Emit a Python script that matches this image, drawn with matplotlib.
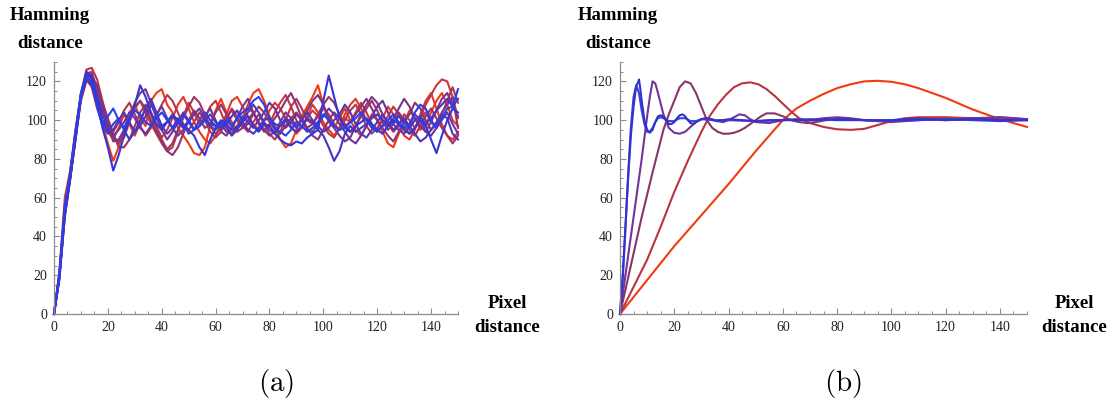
import numpy as np
import matplotlib
matplotlib.use("Agg")
import matplotlib.pyplot as plt
from matplotlib.ticker import MultipleLocator

# ---------------- data: panel (a) (values every 2 pixels of distance) ----------------
x_a = np.arange(0, 151, 2)

a_s1 = [0, 22, 60, 74, 95, 113, 121, 117, 106, 98,
        88, 79, 86, 95, 104, 108, 101, 97, 110, 114,
        116, 108, 104, 96, 92, 88, 83, 82, 86, 97,
        105, 111, 104, 99, 95, 101, 108, 114, 116, 110,
        102, 97, 90, 86, 88, 95, 102, 107, 112, 118,
        108, 99, 96, 101, 106, 100, 95, 92, 97, 103,
        100, 94, 88, 86, 93, 99, 105, 101, 95, 97,
        104, 110, 114, 108, 100, 97]
a_s2 = [0, 18, 55, 72, 92, 110, 120, 119, 110, 100,
        94, 90, 96, 103, 98, 92, 99, 106, 103, 97,
        91, 95, 101, 108, 112, 106, 99, 94, 90, 88,
        92, 97, 103, 110, 112, 107, 102, 98, 95, 100,
        105, 109, 106, 101, 97, 93, 96, 102, 108, 104,
        99, 95, 92, 96, 103, 108, 111, 106, 100, 97,
        95, 101, 107, 103, 98, 92, 90, 95, 103, 110,
        114, 106, 98, 92, 90, 94]
a_s3 = [0, 20, 52, 70, 90, 112, 124, 125, 114, 103,
        96, 92, 88, 91, 99, 106, 110, 104, 98, 93,
        88, 84, 86, 94, 102, 109, 104, 98, 101, 107,
        110, 104, 97, 93, 95, 101, 106, 104, 99, 95,
        98, 104, 109, 113, 107, 100, 96, 101, 105, 102,
        97, 93, 91, 96, 101, 99, 104, 109, 104, 98,
        94, 97, 102, 107, 103, 97, 93, 96, 101, 108,
        113, 118, 121, 120, 112, 101]
a_s4 = [0, 19, 50, 69, 92, 113, 126, 127, 121, 110,
        99, 94, 99, 105, 109, 103, 97, 92, 96, 102,
        108, 113, 110, 104, 98, 95, 99, 104, 100, 94,
        91, 94, 100, 106, 102, 97, 94, 99, 103, 98,
        93, 90, 94, 100, 107, 111, 106, 100, 98, 102,
        106, 103, 98, 95, 100, 105, 108, 103, 97, 93,
        96, 100, 98, 94, 97, 103, 100, 96, 101, 104,
        99, 96, 103, 110, 117, 109]
a_s5 = [0, 21, 54, 71, 93, 111, 122, 121, 116, 109,
        101, 93, 86, 86, 90, 97, 104, 108, 103, 96,
        90, 85, 88, 95, 101, 107, 112, 109, 103, 97,
        93, 96, 102, 105, 100, 96, 98, 103, 107, 104,
        99, 95, 93, 97, 101, 104, 100, 96, 98, 103,
        108, 112, 109, 103, 98, 94, 97, 102, 106, 110,
        105, 99, 95, 98, 104, 100, 95, 92, 97, 102,
        106, 101, 96, 92, 88, 92]
a_s6 = [0, 20, 53, 72, 94, 114, 123, 122, 118, 108,
        97, 91, 89, 94, 100, 107, 110, 106, 100, 94,
        89, 84, 82, 86, 93, 100, 105, 101, 96, 98,
        104, 108, 103, 97, 94, 96, 100, 104, 98, 94,
        97, 101, 105, 110, 114, 108, 101, 96, 92, 90,
        95, 100, 104, 101, 97, 99, 103, 107, 111, 106,
        100, 96, 92, 89, 94, 99, 103, 109, 106, 100,
        95, 98, 104, 108, 112, 96]
a_s7 = [0, 19, 51, 70, 91, 112, 121, 124, 117, 107,
        98, 89, 90, 95, 101, 109, 114, 116, 109, 101,
        95, 90, 94, 99, 104, 100, 95, 97, 102, 106,
        100, 94, 92, 96, 101, 107, 111, 104, 99, 95,
        92, 94, 99, 104, 101, 97, 100, 105, 110, 113,
        108, 101, 96, 92, 89, 91, 97, 103, 108, 112,
        109, 103, 98, 101, 106, 111, 107, 101, 97, 94,
        99, 105, 111, 114, 108, 102]
a_s8 = [0, 21, 56, 73, 95, 113, 122, 120, 113, 104,
        96, 92, 95, 99, 104, 101, 96, 93, 97, 103,
        107, 101, 96, 92, 95, 99, 103, 106, 101, 97,
        95, 98, 94, 93, 97, 102, 99, 96, 100, 104,
        109, 106, 100, 96, 99, 103, 100, 95, 94, 98,
        102, 106, 103, 98, 94, 90, 88, 92, 97, 102,
        107, 110, 104, 98, 95, 93, 97, 103, 100, 94,
        92, 96, 100, 104, 98, 93]
a_s9 = [0, 18, 50, 70, 90, 111, 121, 118, 108, 97,
        93, 95, 100, 104, 99, 94, 97, 102, 108, 103,
        97, 93, 96, 101, 98, 93, 95, 100, 104, 100,
        97, 99, 96, 92, 95, 100, 104, 108, 104, 99,
        95, 93, 97, 101, 99, 96, 100, 104, 100, 97,
        94, 96, 100, 103, 108, 104, 98, 93, 91, 95,
        99, 103, 99, 95, 98, 101, 97, 93, 89, 91,
        95, 99, 103, 101, 93, 90]
a_s10 = [0, 20, 54, 71, 92, 114, 125, 123, 112, 100,
         94, 98, 101, 95, 90, 94, 100, 106, 111, 104,
         97, 99, 102, 99, 96, 100, 95, 97, 100, 103,
         99, 96, 98, 102, 105, 99, 95, 93, 96, 100,
         101, 98, 97, 100, 96, 94, 97, 101, 99, 95,
         92, 86, 79, 84, 93, 97, 94, 96, 98, 101,
         103, 100, 97, 99, 102, 99, 96, 100, 102, 98,
         101, 105, 108, 111, 107, 111]
a_s11 = [0, 19, 52, 70, 91, 112, 124, 122, 110, 96,
         86, 74, 82, 92, 100, 108, 118, 112, 104, 98,
         95, 99, 103, 100, 97, 95, 92, 86, 82, 90,
         96, 100, 98, 95, 96, 99, 102, 97, 94, 98,
         97, 93, 90, 88, 87, 89, 88, 91, 93, 95,
         110, 123, 112, 101, 96, 94, 97, 99, 101, 98,
         95, 93, 97, 100, 98, 95, 93, 96, 100, 97,
         90, 83, 92, 100, 106, 104]
a_s12 = [0, 20, 55, 73, 93, 113, 122, 119, 107, 97,
         102, 106, 100, 96, 101, 105, 103, 99, 97, 101,
         104, 100, 96, 98, 103, 99, 95, 97, 100, 98,
         97, 98, 100, 97, 101, 104, 106, 110, 112, 108,
         101, 96, 94, 92, 95, 99, 97, 94, 96, 99,
         103, 100, 97, 95, 96, 99, 101, 104, 100, 96,
         94, 97, 100, 103, 99, 96, 98, 104, 108, 106,
         100, 96, 101, 106, 107, 116]

series_a = [a_s1, a_s2, a_s3, a_s4, a_s5, a_s6, a_s7, a_s8, a_s9, a_s10, a_s11, a_s12]
colors_a = ["#f23a10", "#e0392a", "#c9353f", "#b5344f", "#a03460", "#8c3475",
            "#7b348a", "#6a349e", "#5535b4", "#4535c8", "#3535d6", "#2540ec"]

# ---------------- data: panel (b) ----------------
b_red_x = [0, 10, 20, 30, 40, 50, 60, 65, 70, 75, 80, 85, 90, 95, 100, 105, 110, 115, 120,
           125, 130, 135, 140, 145, 150]
b_red_y = [0, 17.5, 35, 51, 67, 84, 100, 106, 110, 113.5, 116.5, 118.5, 120, 120.3, 119.8,
           118.5, 116.5, 114, 111.5, 108.5, 105.5, 103, 100.5, 98.5, 96.5]

b_dred_x = [0, 5, 10, 15, 20, 25, 30, 33, 36, 39, 42, 45, 48, 51, 54, 57, 60, 63, 66, 70, 75,
            80, 85, 90, 95, 100, 105, 110, 120, 130, 140, 150]
b_dred_y = [0, 14, 28, 45, 63, 79, 94, 102, 108, 113, 117, 119, 119.5, 118.5, 116, 112.5, 108.5,
            104.5, 101, 98.5, 96.5, 95.3, 95, 95.5, 97.5, 99.5, 101, 101.5, 101.5, 101, 100.5, 100]

b_purp_x = [0, 4, 8, 12, 16, 18, 20, 22, 24, 26, 28, 30, 32, 34, 36, 38, 40, 42, 44, 46, 48,
            50, 52, 54, 57, 60, 63, 66, 69, 72, 76, 80, 85, 90, 95, 100, 105, 110, 115, 120,
            125, 130, 135, 140, 145, 150]
b_purp_y = [0, 25, 50, 73, 95, 103, 110, 117, 120, 119, 114, 107, 100, 96, 94, 93, 93, 93.5,
            94.5, 96, 98, 100, 102, 103.5, 103.5, 102, 100, 99, 98.5, 99, 100, 100.5, 100.5, 100,
            99.5, 99, 99.5, 100, 100.5, 100.5, 100.5, 101, 101, 101.5, 101, 100.5]

b_vio_x = [0, 2, 4, 6, 8, 10, 11, 12, 13, 14, 16, 18, 20, 22, 24, 26, 28, 30, 32, 34, 36, 38,
           40, 42, 44, 46, 48, 50, 55, 60, 65, 70, 75, 80, 85, 90, 95, 100, 110, 120, 130, 140, 150]
b_vio_y = [0, 20, 40, 60, 80, 102, 112, 120, 119, 114, 103, 96, 93.5, 93, 94, 96.5, 99, 100.5,
           101, 100.5, 99.5, 99, 100, 101.5, 103, 102.5, 100.5, 99, 98.5, 100, 100.5, 100, 101,
           101.5, 101, 100, 99.5, 100, 101, 100, 101, 101.5, 100.5]

b_blue_x = [0, 1, 2, 3, 4, 5, 6, 6.5, 7, 7.5, 8, 9, 10, 11, 12, 13, 14, 15, 16, 17, 18, 19,
            20, 21, 22, 23, 24, 25, 26, 27, 28, 30, 32, 34, 36, 38, 40, 45, 50, 55, 60, 70, 80,
            90, 100, 110, 120, 130, 140, 150]
b_blue_y = [0, 20, 45, 70, 92, 107, 118, 119, 121, 116, 110, 100, 95, 93.5, 95, 99, 102, 102.5,
            102, 100, 98, 98, 99, 101, 102.5, 103, 102, 100, 98.5, 98, 99, 100.5, 101, 100, 99.5,
            100, 100.5, 100, 99.5, 100, 100, 100, 100.5, 100, 100, 100.5, 100, 100.5, 100, 100]

b_blue2_x = [0, 1, 2, 3, 4, 5, 6, 7, 8, 9, 10, 11, 12, 13, 14, 15, 16, 18, 20, 22, 24, 26, 28,
             30, 35, 40, 50, 60, 70, 80, 90, 100, 110, 120, 130, 140, 150]
b_blue2_y = [0, 18, 44, 72, 96, 112, 118, 114, 105, 98, 94, 94, 96, 99, 101, 101.5, 101, 99.5,
             99.5, 101, 101, 99.5, 99.5, 100.5, 100, 100, 99.5, 100, 100.5, 100, 100, 99.5, 100,
             100.5, 100, 99.5, 100]

series_b = [(b_red_x, b_red_y), (b_dred_x, b_dred_y), (b_purp_x, b_purp_y),
            (b_vio_x, b_vio_y), (b_blue2_x, b_blue2_y), (b_blue_x, b_blue_y)]
colors_b = ["#f23a10", "#b8353f", "#8a3568", "#73359a", "#3c3ee0", "#3333cc"]

x_ticks = [0, 20, 40, 60, 80, 100, 120, 140]
y_ticks = [0, 20, 40, 60, 80, 100, 120]

# ---------------- figure ----------------
W, H = 1116, 404
fig = plt.figure(figsize=(W / 100, H / 100), dpi=100)
fig.patch.set_facecolor("white")

serif = ["Liberation Serif", "DejaVu Serif"]
axis_grey = "#8c8c8c"


def style(ax):
    ax.set_xlim(0, 150)
    ax.set_ylim(0, 130)
    for s in ("top", "right"):
        ax.spines[s].set_visible(False)
    for s in ("left", "bottom"):
        ax.spines[s].set_color(axis_grey)
        ax.spines[s].set_linewidth(0.9)
    ax.set_xticks(x_ticks)
    ax.set_yticks(y_ticks)
    ax.xaxis.set_minor_locator(MultipleLocator(5))
    ax.yaxis.set_minor_locator(MultipleLocator(5))
    ax.tick_params(which="major", direction="in", length=4.5, width=0.8, color=axis_grey,
                   labelsize=10, pad=5)
    ax.tick_params(which="minor", direction="in", length=2.3, width=0.7, color=axis_grey)
    for lab in ax.get_xticklabels() + ax.get_yticklabels():
        lab.set_fontfamily(serif)
        lab.set_color("#222222")
    ax.patch.set_alpha(0)


def px(x, y):
    return x / W, 1 - y / H


ax1 = fig.add_axes([54 / W, (H - 314) / H, 404 / W, 252 / H])
for ys, c in zip(series_a, colors_a):
    ax1.plot(x_a, ys, color=c, lw=1.5, clip_on=False)
style(ax1)

ax2 = fig.add_axes([620 / W, (H - 314) / H, 407 / W, 252 / H])
for (xs, ys), c in zip(series_b, colors_b):
    ax2.plot(xs, ys, color=c, lw=1.5, clip_on=False)
style(ax2)

label_kw = dict(family=serif, fontweight="bold", fontsize=13.5, ha="center", va="center")
for cx in (50, 618):
    fig.text(*px(cx, 16), "Hamming", **label_kw)
    fig.text(*px(cx, 43), "distance", **label_kw)
for cx in (507, 1074):
    fig.text(*px(cx, 303), "Pixel", **label_kw)
    fig.text(*px(cx, 328), "distance", **label_kw)

plt.rcParams["mathtext.fontset"] = "cm"
fig.text(*px(276, 383), r"$\mathrm{(a)}$", fontsize=21, ha="center", va="center")
fig.text(*px(843, 383), r"$\mathrm{(b)}$", fontsize=21, ha="center", va="center")

fig.savefig("out.png", dpi=100, facecolor="white")
